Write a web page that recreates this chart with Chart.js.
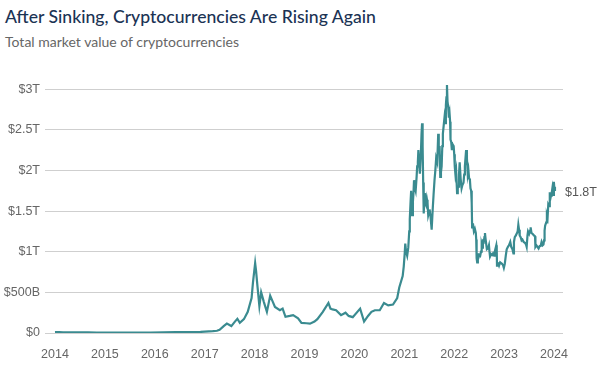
<!DOCTYPE html>
<html>
<head>
<meta charset="utf-8">
<script src="https://cdn.jsdelivr.net/npm/chart.js@4/dist/chart.umd.min.js"></script>
<style>
  html, body { margin: 0; padding: 0; background: #fff; }
  #wrap { position: relative; width: 599px; height: 366px; overflow: hidden; }
  #title { position: absolute; left: 5px; top: 6px; font-family: Lato, "Noto Sans", sans-serif; font-size: 17.6px; font-weight: 500; color: #1b3354; white-space: nowrap; }
  #sub { position: absolute; left: 5px; top: 33px; font-family: Lato, "Noto Sans", sans-serif; font-size: 14px; color: #666; white-space: nowrap; }
  canvas { position: absolute; left: 0; top: 0; }
</style>
</head>
<body>
<div id="wrap">
  <div id="title">After Sinking, Cryptocurrencies Are Rising Again</div>
  <div id="sub">Total market value of cryptocurrencies</div>
  <canvas id="myChart" width="599" height="366"></canvas>
</div>
<script>
// total market value, trillions of dollars
const dates = [
  "2014-01-01","2014-02-01","2014-03-01","2014-05-01","2014-07-01","2014-09-01","2014-11-01",
  "2015-01-01","2015-03-01","2015-06-01","2015-09-01","2015-12-01",
  "2016-03-01","2016-06-01","2016-09-01","2016-12-01",
  "2017-01-01","2017-03-01","2017-04-01","2017-04-20","2017-05-20","2017-06-12","2017-07-15",
  "2017-08-10","2017-08-28","2017-09-15","2017-10-15","2017-11-12","2017-12-10","2017-12-20",
  "2018-01-05","2018-01-12","2018-01-20","2018-02-05","2018-02-18","2018-03-10","2018-04-01",
  "2018-04-25","2018-05-15","2018-05-30","2018-07-05","2018-07-25","2018-08-15","2018-09-15",
  "2018-10-10","2018-11-15","2018-12-10",
  "2019-01-15","2019-02-10","2019-03-15","2019-04-05","2019-05-15","2019-06-25","2019-07-10",
  "2019-07-25","2019-08-20","2019-09-25","2019-10-28","2019-11-20","2019-12-20",
  "2020-02-12","2020-03-12","2020-04-10","2020-05-05","2020-05-30","2020-07-05","2020-08-05",
  "2020-09-05","2020-10-10","2020-11-10","2020-11-25","2020-12-20","2020-12-28",
  "2021-01-04","2021-01-08","2021-01-14","2021-01-22","2021-01-30","2021-02-06","2021-02-10",
  "2021-02-16","2021-02-20","2021-02-27","2021-03-05","2021-03-09","2021-03-13","2021-03-19",
  "2021-03-25","2021-04-01","2021-04-05","2021-04-10","2021-04-14","2021-04-20","2021-04-25",
  "2021-05-02","2021-05-07","2021-05-11","2021-05-15","2021-05-19","2021-05-23","2021-05-28",
  "2021-06-01","2021-06-07","2021-06-12","2021-06-16","2021-06-20","2021-06-25","2021-07-01",
  "2021-07-05","2021-07-12","2021-07-20","2021-07-28","2021-08-03","2021-08-10","2021-08-16",
  "2021-08-22","2021-08-30","2021-09-06","2021-09-10","2021-09-16","2021-09-21","2021-09-26",
  "2021-10-01","2021-10-06","2021-10-10","2021-10-16","2021-10-22","2021-10-27","2021-11-01",
  "2021-11-05","2021-11-09","2021-11-13","2021-11-18","2021-11-23","2021-11-28","2021-12-02",
  "2021-12-05","2021-12-10","2021-12-15","2021-12-21","2021-12-28",
  "2022-01-01","2022-01-05","2022-01-10","2022-01-15","2022-01-22","2022-01-27","2022-02-01",
  "2022-02-05","2022-02-10","2022-02-17","2022-02-24","2022-03-02","2022-03-10","2022-03-15",
  "2022-03-20","2022-03-29","2022-04-04","2022-04-10","2022-04-15","2022-04-20","2022-04-26",
  "2022-04-30","2022-05-05","2022-05-09","2022-05-12","2022-05-18","2022-05-25","2022-06-01",
  "2022-06-08","2022-06-11","2022-06-14","2022-06-18","2022-06-23","2022-06-28","2022-07-04",
  "2022-07-10","2022-07-16","2022-07-21","2022-07-25","2022-07-30","2022-08-05","2022-08-10",
  "2022-08-14","2022-08-19","2022-08-28","2022-09-05","2022-09-12","2022-09-16","2022-09-20",
  "2022-09-28","2022-10-05","2022-10-12","2022-10-20","2022-10-26","2022-11-05","2022-11-08",
  "2022-11-10","2022-11-16","2022-11-21","2022-11-25","2022-12-03","2022-12-10","2022-12-17",
  "2022-12-23","2022-12-30",
  "2023-01-06","2023-01-13","2023-01-20","2023-01-29","2023-02-06","2023-02-15","2023-02-22",
  "2023-03-03","2023-03-10","2023-03-14","2023-03-20","2023-03-28","2023-04-05","2023-04-10",
  "2023-04-15","2023-04-20","2023-04-25","2023-05-02","2023-05-09","2023-05-15","2023-05-24",
  "2023-06-02","2023-06-10","2023-06-15","2023-06-21","2023-06-25","2023-07-03","2023-07-10",
  "2023-07-14","2023-07-20","2023-07-28","2023-08-07","2023-08-15","2023-08-18","2023-08-25",
  "2023-09-02","2023-09-10","2023-09-18","2023-09-25","2023-10-02","2023-10-10","2023-10-16",
  "2023-10-20","2023-10-24","2023-10-28","2023-11-05","2023-11-10","2023-11-15","2023-11-20",
  "2023-11-26","2023-12-01","2023-12-05","2023-12-10","2023-12-15","2023-12-20","2023-12-26",
  "2023-12-31","2024-01-04","2024-01-08"
];
const marketCap = [
  0.010,0.012,0.009,0.008,0.008,0.007,0.005,
  0.004,0.004,0.004,0.004,0.006,
  0.007,0.010,0.011,0.013,
  0.017,0.022,0.028,0.040,0.085,0.115,0.085,
  0.140,0.175,0.125,0.170,0.260,0.430,0.620,
  0.860,0.760,0.610,0.330,0.500,0.380,0.260,
  0.460,0.380,0.320,0.280,0.300,0.200,0.210,
  0.220,0.180,0.125,
  0.120,0.115,0.140,0.170,0.260,0.370,0.300,
  0.290,0.280,0.220,0.250,0.210,0.195,
  0.300,0.140,0.210,0.260,0.280,0.280,0.370,
  0.340,0.350,0.430,0.560,0.700,0.820,
  0.980,1.100,1.000,0.950,1.050,1.250,1.400,
  1.620,1.750,1.450,1.620,1.720,1.880,1.790,
  1.750,1.920,2.050,2.100,2.250,2.080,1.960,
  2.200,2.450,2.580,2.300,1.850,1.470,1.650,
  1.720,1.580,1.560,1.640,1.600,1.450,1.490,
  1.520,1.430,1.270,1.530,1.700,1.880,2.000,
  2.150,2.100,2.450,2.220,2.300,1.920,1.980,
  2.050,2.300,2.450,2.550,2.650,2.580,2.800,
  2.900,3.050,2.850,2.780,2.650,2.700,2.600,
  2.380,2.350,2.250,2.320,2.300,
  2.200,2.050,1.950,2.000,1.720,1.780,1.800,
  1.950,2.100,1.900,1.780,1.820,1.850,1.950,
  2.050,2.250,2.150,1.950,2.000,1.900,1.880,
  1.780,1.750,1.600,1.300,1.350,1.250,1.280,
  1.230,1.150,0.920,0.870,0.980,0.930,0.960,
  0.950,1.000,1.080,1.050,1.130,1.120,1.180,
  1.230,1.150,1.030,1.040,1.080,1.000,0.940,
  0.970,0.960,0.980,0.950,1.010,1.080,1.030,
  0.830,0.860,0.850,0.830,0.870,0.860,0.850,
  0.840,0.800,
  0.850,0.950,1.030,1.060,1.080,1.120,1.060,
  1.030,0.980,1.120,1.180,1.200,1.230,1.250,
  1.330,1.270,1.200,1.180,1.140,1.150,1.120,
  1.110,1.090,1.060,1.200,1.250,1.220,1.260,
  1.300,1.230,1.220,1.200,1.190,1.060,1.080,
  1.060,1.040,1.070,1.070,1.120,1.080,1.090,
  1.140,1.260,1.320,1.360,1.450,1.420,1.580,
  1.560,1.730,1.650,1.690,1.720,1.780,1.700,
  1.860,1.760,1.800
];
const yearTicks = [2014,2015,2016,2017,2018,2019,2020,2021,2022,2023,2024];
const valueTicks = [0,0.5,1,1.5,2,2.5,3];
const valueLabels = ["$0","$500B","$1T","$1.5T","$2T","$2.5T","$3T"];
const endLabel = "$1.8T";

function toYear(s) {
  const d = new Date(s + "T00:00:00Z");
  const y = d.getUTCFullYear();
  const start = Date.UTC(y, 0, 1), next = Date.UTC(y + 1, 0, 1);
  return y + (d.getTime() - start) / (next - start);
}
const points = dates.map((s, i) => ({x: toYear(s), y: marketCap[i]}));

const tickFont = {family: "'Liberation Sans', Arial, sans-serif", size: 12.5};

const endLabelPlugin = {
  id: 'endLabel',
  afterDatasetsDraw(chart) {
    const ctx = chart.ctx;
    const last = points[points.length - 1];
    const x = chart.scales.x.getPixelForValue(last.x);
    const y = chart.scales.y.getPixelForValue(last.y);
    ctx.save();
    ctx.font = "12.5px 'Liberation Sans', Arial, sans-serif";
    ctx.fillStyle = '#555';
    ctx.textBaseline = 'middle';
    ctx.fillText(endLabel, x + 10, y + 6);
    ctx.restore();
  }
};

new Chart(document.getElementById("myChart"), {
  type: "line",
  data: {
    datasets: [{
      data: points,
      borderColor: "#3a8b90",
      borderWidth: 2.2,
      pointRadius: 0,
      tension: 0
    }]
  },
  options: {
    responsive: false,
    animation: false,
    layout: {padding: {top: 81, right: 36, bottom: 0, left: 0}},
    plugins: {legend: {display: false}, tooltip: {enabled: false}},
    scales: {
      x: {
        type: "linear",
        min: 2013.8,
        max: 2024.18,
        afterBuildTicks: s => { s.ticks = yearTicks.map(v => ({value: v})); },
        afterFit: s => { s.height = 33; },
        grid: {display: false},
        border: {display: false},
        ticks: {color: "#666", font: tickFont, padding: 6, maxRotation: 0, callback: v => String(v)}
      },
      y: {
        min: 0,
        max: 3.1,
        afterBuildTicks: s => { s.ticks = valueTicks.map(v => ({value: v})); },
        afterFit: s => { s.width = 45; },
        grid: {color: "#cfcfcf", drawTicks: false, lineWidth: 1},
        border: {display: false},
        ticks: {color: "#666", font: tickFont, padding: 5,
          callback: v => valueLabels[valueTicks.indexOf(v)]}
      }
    }
  },
  plugins: [endLabelPlugin]
});
</script>
</body>
</html>
